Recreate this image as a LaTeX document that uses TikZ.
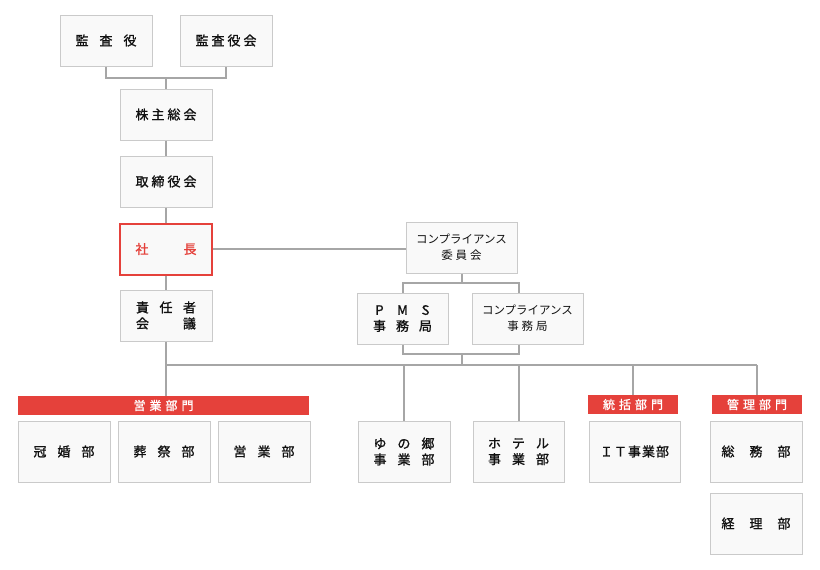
\documentclass[tikz,border=0pt]{standalone}
\usepackage{fontspec}
\setmainfont{Noto Sans CJK JP}[BoldFont={Noto Sans CJK JP}, BoldFeatures={FakeBold=1.2}]
\definecolor{redc}{HTML}{E5413B}
\definecolor{linec}{HTML}{A6A6A6}
\definecolor{bordc}{HTML}{CACACA}
\definecolor{fillc}{HTML}{F9F9F9}
\definecolor{textc}{HTML}{111111}
\newcommand\wg[1]{\hspace{#1pt}}
\begin{document}
\begin{tikzpicture}[x=1pt,y=-1pt,
  box/.style={draw=bordc, fill=fillc, line width=1pt, minimum width=92pt, minimum height=51pt,
    inner sep=0pt, align=center, text=textc, font=\fontsize{13}{17}\selectfont\bfseries},
  tallbox/.style={box, minimum height=61pt},
  smallfont/.style={font=\fontsize{11.5}{17}\selectfont},
  bar/.style={fill=redc, draw=none, minimum height=19pt, inner sep=0pt, text=white,
    font=\fontsize{12}{14}\selectfont\bfseries},
  conn/.style={draw=linec, line width=2pt}]
\useasboundingbox (0,0) rectangle (820,570);
% top
\node[box] (kansa) at (106,40.5) {監\wg{11}査\wg{11}役};
\node[box] (kansakai) at (226,40.5) {監\wg{3}査\wg{3}役\wg{3}会};
\node[box] (kabu) at (166,114.5) {株\wg{3}主\wg{3}総\wg{3}会};
\node[box] (tori) at (166,181.5) {取\wg{3}締\wg{3}役\wg{3}会};
\node[box, draw=redc, line width=2pt, text=redc, minimum width=92pt, minimum height=51pt] (shacho) at (166,249) {社\wg{35}長};
\node[box] (sekinin) at (166,315.5) {責\wg{10.5}任\wg{10.5}者\\[-1pt]会\wg{34}議};
% compliance
\node[box, smallfont, minimum width=111pt] (comp) at (461.5,247.5) {コンプライアンス\\[-1pt]委\wg{3}員\wg{3}会};
\node[box, minimum width=91pt] (pms) at (402.5,318.5) {\makebox[13pt]{P}\wg{10}\makebox[13pt]{M}\wg{10}\makebox[13pt]{S}\\[-1pt]事\wg{10}務\wg{10}局};
\node[box, smallfont, minimum width=111pt] (compj) at (527.5,318.5) {コンプライアンス\\[-1pt]事\wg{3}務\wg{3}局};
% bars
\node[bar, minimum width=291pt] (eigyobar) at (163.5,405.5) {営\wg{4}業\wg{4}部\wg{4}門};
\node[bar, minimum width=90pt] (tokatsubar) at (633,404.5) {統\wg{4}括\wg{4}部\wg{4}門};
\node[bar, minimum width=90pt] (kanribar) at (757,404.5) {管\wg{4}理\wg{4}部\wg{4}門};
% bottom boxes
\node[tallbox] (konkon) at (64,451.5) {冠\wg{11}婚\wg{11}部};
\node[tallbox] (sosai) at (164,451.5) {葬\wg{11}祭\wg{11}部};
\node[tallbox] (eigyo) at (264,451.5) {営\wg{11}業\wg{11}部};
\node[tallbox] (yuno) at (404,451.5) {ゆ\wg{11}の\wg{11}郷\\[-1pt]事\wg{11}業\wg{11}部};
\node[tallbox, minimum width=91pt] (hotel) at (518.5,451.5) {ホ\wg{11}テ\wg{11}ル\\[-1pt]事\wg{11}業\wg{11}部};
\node[tallbox, minimum width=91pt] (it) at (634.5,451.5) {Ｉ\wg{1}Ｔ\wg{1}事\wg{1}業\wg{1}部};
\node[tallbox] (somu) at (756,451.5) {総\wg{15}務\wg{15}部};
\node[tallbox] (keiri) at (756,523.5) {経\wg{15}理\wg{15}部};
% coordinates
\coordinate (kj) at (166,78);
\coordinate (b1) at (519,283);
\coordinate (b2) at (519,354);
\coordinate (b3) at (462,354);
\coordinate (m) at (462,365);
\coordinate (mR) at (757,365);
% connectors
\draw[conn] (kansa.south) |- (kj) -| (kansakai.south);
\draw[conn] (kj) -- (kabu.north);
\draw[conn] (kabu.south) -- (tori.north);
\draw[conn] (tori.south) -- (shacho.north);
\draw[conn] (shacho.south) -- (sekinin.north);
\draw[conn] (shacho.east) -- (shacho.east -| comp.west);
\draw[conn] (comp.south) -- (comp.south |- b1);
\draw[conn] (pms.north) |- (b1) -- (b1 |- compj.north);
\draw[conn] (pms.south) |- (b2) -- (b2 |- compj.south);
\draw[conn] (b3) -- (m);
\draw[conn] (sekinin.south) -- (sekinin.south |- eigyobar.north);
\draw[conn] (sekinin.south |- m) -- (mR);
\draw[conn] (yuno.north |- m) -- (yuno.north);
\draw[conn] (hotel.north |- m) -- (hotel.north);
\draw[conn] (tokatsubar.north |- m) -- (tokatsubar.north);
\draw[conn] (kanribar.north |- m) -- (kanribar.north);
\end{tikzpicture}
\end{document}
